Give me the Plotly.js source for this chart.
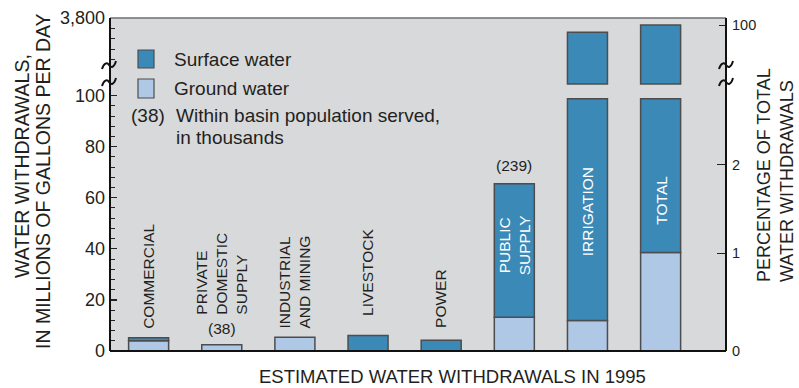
<!DOCTYPE html>
<html>
<head>
<meta charset="utf-8">
<script src="https://cdn.plot.ly/plotly-3.0.1.min.js"></script>
<style>
  html, body { margin: 0; padding: 0; background: #ffffff; }
  #chart { width: 799px; height: 388px; }
</style>
</head>
<body>
<div id="chart"></div>
<script>
// Estimated water withdrawals in 1995, million gallons per day
const categories = ['Commercial', 'Private domestic supply', 'Industrial and mining',
  'Livestock', 'Power', 'Public supply', 'Irrigation', 'Total'];
const surfaceWater = [1.2, 0, 0, 6.1, 4.2, 52.3, 3652, 3694];
const groundWater  = [4.0, 2.4, 5.4, 0, 0, 13.2, 11.9, 38.6];
const barLabels = ['COMMERCIAL', 'PRIVATE<br>DOMESTIC<br>SUPPLY', 'INDUSTRIAL<br>AND MINING',
  'LIVESTOCK', 'POWER', 'PUBLIC<br>SUPPLY', 'IRRIGATION', 'TOTAL'];
const populationServed = [null, 38, null, null, null, 239, null, null]; // thousands

// left axis ticks
const lowerTicks = [0, 20, 40, 60, 80, 100];
const upperTicks = [3400, 3500, 3600, 3700, 3800];
const upperTickText = ['', '', '', '', '3,800'];
// percentage-of-total axis (right side); positions in Mgal/d
const pctTickText = ['0', '1', '2'];
const pctTickAt = [0, 38.3, 72.9];

// ---- styling / geometry ----
const FONT = 'Liberation Sans, Arial, Helvetica, sans-serif';
const INK = '#231f20';
const SURFACE = '#3b89b6';
const GROUND = '#aec8e6';
const EDGE = '#4d4d4f';
const BG = '#d8d9db';

const PLOT = { l: 110, t: 18, w: 616, h: 333 };
const px2x = px => (px - PLOT.l) / PLOT.w;
const px2y = py => (PLOT.t + PLOT.h - py) / PLOT.h;

// broken value axis: a lower panel (0-100) and an upper panel near 3,800
const lowerMax = 101.4, lowerDomTop = px2y(92);
const upperDomBottom = px2y(86), upperMin = 3152, upperMax = 3800;
const lowerCap = 98.8;   // where broken bars stop in the lower panel
const upperBase = 3170;  // where broken bars resume in the upper panel

const totals = categories.map((c, i) => surfaceWater[i] + groundWater[i]);
const broken = totals.map(v => v > lowerMax);
const nz = v => (v > 0 ? v : null);

const groundTrace = {
  type: 'bar', x: categories, y: groundWater.map(nz),
  xaxis: 'x', yaxis: 'y', name: 'Ground water',
  marker: { color: GROUND, line: { color: EDGE, width: 1.5 } },
  hoverinfo: 'skip'
};
const surfaceLower = {
  type: 'bar', x: categories,
  y: surfaceWater.map((v, i) => nz(broken[i] ? lowerCap - groundWater[i] : v)),
  base: groundWater,
  xaxis: 'x', yaxis: 'y', name: 'Surface water',
  marker: { color: SURFACE, line: { color: EDGE, width: 1.5 } },
  hoverinfo: 'skip'
};
const surfaceUpper = {
  type: 'bar', x: categories,
  y: totals.map((v, i) => (broken[i] ? v - upperBase : null)),
  base: upperBase,
  xaxis: 'x', yaxis: 'y2', showlegend: false,
  marker: { color: SURFACE, line: { color: EDGE, width: 1.5 } },
  hoverinfo: 'skip'
};
const rightLower = { type: 'scatter', x: [], y: [], xaxis: 'x', yaxis: 'y3', showlegend: false, hoverinfo: 'skip' };
const rightUpper = { type: 'scatter', x: [], y: [], xaxis: 'x', yaxis: 'y4', showlegend: false, hoverinfo: 'skip' };

const tickFont = { family: FONT, size: 18, color: INK };
const rightFont = { family: FONT, size: 14.5, color: INK };

const annotations = [];
const ann = o => annotations.push(Object.assign({
  showarrow: false, xanchor: 'center', yanchor: 'middle',
  font: { family: FONT, size: 15.5, color: INK } }, o));

// category labels above short bars, inside tall bars
const aboveShift = [7, 28, 7, 17, 10];
for (let i = 0; i < 5; i++) {
  ann({ x: categories[i], y: totals[i], xref: 'x', yref: 'y', text: barLabels[i],
        textangle: -90, align: 'left', yanchor: 'bottom', yshift: aboveShift[i] });
}
ann({ x: categories[1], y: totals[1], xref: 'x', yref: 'y', text: '(' + populationServed[1] + ')',
      yanchor: 'bottom', yshift: 6 });
ann({ x: categories[5], y: totals[5], xref: 'x', yref: 'y', text: '(' + populationServed[5] + ')',
      yanchor: 'bottom', yshift: 8 });
const insideY = { 5: 41.5, 6: 54.5, 7: 59.1 };
[5, 6, 7].forEach(i => {
  ann({ x: categories[i], y: insideY[i], xref: 'x', yref: 'y', text: barLabels[i], textangle: -90,
        font: { family: FONT, size: 15.5, color: '#ffffff' } });
});

// legend
const legFont = { family: FONT, size: 19, color: INK };
ann({ xref: 'paper', yref: 'paper', x: px2x(172), y: px2y(59), xanchor: 'left', text: 'Surface water', font: legFont });
ann({ xref: 'paper', yref: 'paper', x: px2x(172), y: px2y(88), xanchor: 'left', text: 'Ground water', font: legFont });
ann({ xref: 'paper', yref: 'paper', x: px2x(130), y: px2y(115), xanchor: 'left', text: '(38)', font: legFont, borderpad: 0 });
ann({ xref: 'paper', yref: 'paper', x: px2x(175), y: px2y(115), xanchor: 'left', text: 'Within basin population served,', font: legFont, borderpad: 0 });
ann({ xref: 'paper', yref: 'paper', x: px2x(175), y: px2y(137), xanchor: 'left', text: 'in thousands', font: legFont, borderpad: 0 });

// axis titles
const titleFont = { family: FONT, size: 19.5, color: INK };
ann({ xref: 'paper', yref: 'paper', x: px2x(22), y: px2y(166), textangle: -90, text: 'WATER WITHDRAWALS,', font: titleFont });
ann({ xref: 'paper', yref: 'paper', x: px2x(43), y: px2y(181), textangle: -90, text: 'IN MILLIONS OF GALLONS PER DAY', font: titleFont });
ann({ xref: 'paper', yref: 'paper', x: px2x(775), y: px2y(284), textangle: -90, align: 'left', yanchor: 'bottom',
      text: 'PERCENTAGE OF TOTAL<br>WATER WITHDRAWALS', font: { family: FONT, size: 18, color: INK } });
ann({ xref: 'paper', yref: 'paper', x: px2x(453), y: px2y(376), text: 'ESTIMATED WATER WITHDRAWALS IN 1995',
      font: { family: FONT, size: 18.5, color: INK }, borderpad: 0 });

// frame, background, legend swatches, axis-break marks
const shapes = [
  { type: 'rect', xref: 'paper', yref: 'paper', x0: 0, x1: 1, y0: 0, y1: 1, layer: 'below',
    fillcolor: BG, line: { width: 0 } },
  { type: 'line', xref: 'paper', yref: 'paper', x0: 0, x1: 1, y0: 1, y1: 1, line: { color: '#6d6e70', width: 1.5 } },
  { type: 'line', xref: 'paper', yref: 'paper', x0: 0, x1: 0, y0: 0, y1: 1, line: { color: '#111', width: 2 } },
  { type: 'line', xref: 'paper', yref: 'paper', x0: 1, x1: 1, y0: 0, y1: 1, line: { color: '#111', width: 2 } },
  { type: 'line', xref: 'paper', yref: 'paper', x0: 0, x1: 1, y0: 0, y1: 0, line: { color: '#111', width: 2 } },
  { type: 'rect', xref: 'paper', yref: 'paper', x0: px2x(138), x1: px2x(154), y0: px2y(68), y1: px2y(50),
    fillcolor: SURFACE, line: { color: EDGE, width: 1.2 } },
  { type: 'rect', xref: 'paper', yref: 'paper', x0: px2x(138), x1: px2x(154), y0: px2y(98), y1: px2y(79),
    fillcolor: GROUND, line: { color: EDGE, width: 1.2 } }
];
function squiggle(cx, cy) {
  const p = (dx, dy) => px2x(cx + dx).toFixed(5) + ',' + px2y(cy + dy).toFixed(5);
  return { type: 'path', xref: 'paper', yref: 'paper', layer: 'above',
    path: 'M' + p(-7, 4) + ' C' + p(-5, -2) + ' ' + p(-2, -3) + ' ' + p(0, 0) +
          ' S' + p(5, 3) + ' ' + p(7, -4),
    line: { color: '#111', width: 2 } };
}
[PLOT.l - 1, PLOT.l + PLOT.w].forEach(cx => {
  shapes.push(squiggle(cx, 65));
  shapes.push(squiggle(cx, 82));
});

const layout = {
  width: 799, height: 388,
  margin: { l: PLOT.l, r: 799 - PLOT.l - PLOT.w, t: PLOT.t, b: 388 - PLOT.t - PLOT.h, pad: 0 },
  paper_bgcolor: '#ffffff', plot_bgcolor: 'rgba(0,0,0,0)',
  barmode: 'overlay', bargap: 0.453, showlegend: false,
  font: { family: FONT, color: INK },
  xaxis: { type: 'category', range: [-0.528, 7.894], domain: [0, 1], anchor: 'y',
           showticklabels: false, ticks: '', showline: false, showgrid: false, zeroline: false, fixedrange: true },
  yaxis: { domain: [0, lowerDomTop], range: [0, lowerMax], anchor: 'x',
           tickvals: lowerTicks, ticks: 'inside', ticklen: 7, tickwidth: 1.2, tickcolor: '#222',
           minor: { dtick: 4, tick0: 0, ticks: 'inside', ticklen: 5, tickwidth: 1, tickcolor: '#222', showgrid: false },
           tickfont: tickFont, ticklabelstandoff: 4,
           showline: false, showgrid: false, zeroline: false },
  yaxis2: { domain: [upperDomBottom, 1], range: [upperMin, upperMax], anchor: 'x',
            tickvals: upperTicks, ticktext: upperTickText, ticks: 'inside', ticklen: 5, tickwidth: 1, tickcolor: '#222',
            tickfont: tickFont, ticklabelstandoff: 4,
            showline: false, showgrid: false, zeroline: false },
  yaxis3: { overlaying: 'y', side: 'right', anchor: 'x', range: [0, lowerMax],
            tickvals: pctTickAt, ticktext: pctTickText, ticks: 'inside', ticklen: 9, tickwidth: 1, tickcolor: '#222',
            tickfont: rightFont, ticklabelstandoff: 5,
            showline: false, showgrid: false, zeroline: false },
  yaxis4: { overlaying: 'y2', side: 'right', anchor: 'x', range: [upperMin, upperMax],
            tickvals: [totals[7]], ticktext: ['100'], ticks: 'inside', ticklen: 7, tickwidth: 1, tickcolor: '#222',
            tickfont: rightFont, ticklabelstandoff: 5,
            showline: false, showgrid: false, zeroline: false },
  annotations: annotations,
  shapes: shapes
};

Plotly.newPlot('chart', [groundTrace, surfaceLower, surfaceUpper, rightLower, rightUpper], layout,
  { displayModeBar: false, staticPlot: true });
</script>
</body>
</html>
